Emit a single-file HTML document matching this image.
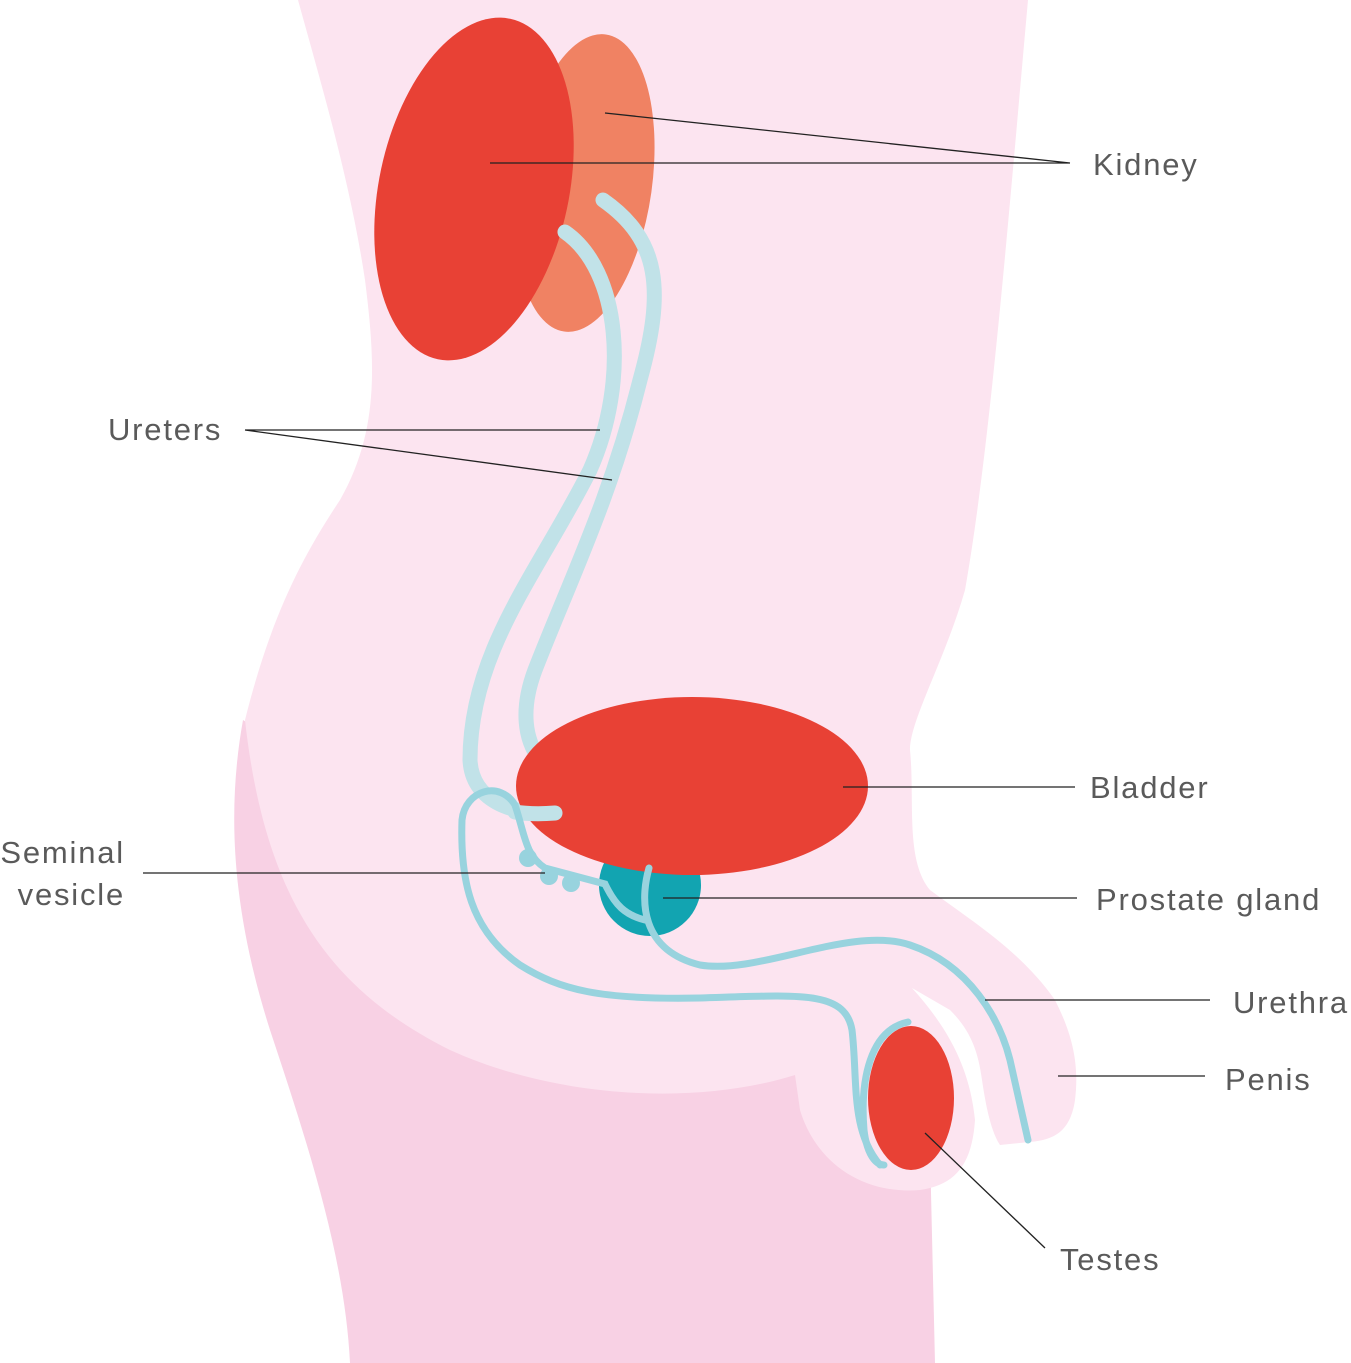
<!DOCTYPE html>
<html><head><meta charset="utf-8"><style>
html,body{margin:0;padding:0;background:#fff;}
svg{display:block}
text{font-family:"Liberation Sans",sans-serif;font-size:31px;letter-spacing:1.8px;fill:#5a5a5a;}
</style></head><body>
<svg width="1351" height="1363" viewBox="0 0 1351 1363">
<path d="M243,720 C225,820 235,920 270,1030 C310,1150 345,1260 350,1363 L935,1363 L930,1150 L800,1060 Z" fill="#f8d1e4"/>
<path d="M298,0 L1028,0 C1010,200 990,450 965,590 C945,660 910,720 910,750 C915,800 905,860 930,890 C970,920 1020,950 1055,1000 C1070,1030 1080,1060 1075,1100 C1070,1135 1050,1140 1030,1142 L1000,1145 C990,1130 985,1100 982,1080 C978,1050 970,1030 950,1010 L912,988 C950,1030 970,1070 975,1120 C972,1165 955,1185 920,1190 C860,1195 815,1160 800,1110 L795,1075 C700,1105 560,1100 450,1050 C330,990 265,900 245,720 C270,620 300,560 340,500 C380,430 375,360 365,280 C350,180 320,80 298,0 Z" fill="#fce4f0"/>
<ellipse cx="585" cy="183" rx="67" ry="150" transform="rotate(8 585 183)" fill="#f08263"/>
<ellipse cx="474" cy="189" rx="95" ry="174" transform="rotate(12 474 189)" fill="#e84135"/>
<path d="M565,232 C620,270 630,380 590,470 C540,570 470,650 470,760 C472,800 510,815 555,813" stroke="#c1e2e8" stroke-width="15" fill="none" stroke-linecap="round"/>
<path d="M603,200 C660,240 665,290 640,380 C610,500 570,580 535,670 C520,710 525,740 540,760" stroke="#c1e2e8" stroke-width="15" fill="none" stroke-linecap="round"/>
<circle cx="650" cy="885" r="51" fill="#12a4b1"/>
<ellipse cx="692" cy="786" rx="176" ry="89" fill="#e84135"/>
<path d="M555,813 C530,815 515,812 515,812" stroke="#c1e2e8" stroke-width="15" fill="none" stroke-linecap="round"/>
<g fill="#98d3de"><circle cx="528" cy="858" r="9"/><circle cx="549" cy="876" r="9"/><circle cx="571" cy="883" r="9"/></g>
<path d="M880,1165 C850,1130 858,1080 852,1030 C845,990 800,995 700,998 C600,1000 560,990 520,965 C470,930 460,880 462,820 C465,790 500,780 515,805 C525,835 525,855 545,868 L605,884 C615,905 625,915 645,920" stroke="#98d3de" stroke-width="7" fill="none" stroke-linecap="round"/>
<path d="M649,868 C640,900 640,950 700,965 C760,975 850,925 910,945 C970,965 1000,1020 1010,1060 L1028,1140" stroke="#98d3de" stroke-width="7" fill="none" stroke-linecap="round"/>
<ellipse cx="911" cy="1098" rx="43" ry="72" fill="#e84135"/>
<path d="M908,1022 C870,1030 860,1080 864,1130 C867,1155 876,1165 884,1165" stroke="#98d3de" stroke-width="7" fill="none" stroke-linecap="round"/>
<g stroke="#222" stroke-width="1.3" fill="none">
<path d="M1070,163 L490,163 M1070,163 L605,113"/>
<path d="M245,430 L600,430 M245,430 L612,480"/>
<path d="M843,787 L1075,787"/>
<path d="M143,873 L545,873"/>
<path d="M663,898 L1077,898"/>
<path d="M985,1000 L1210,1000"/>
<path d="M1058,1076 L1205,1076"/>
<path d="M925,1133 L1045,1248"/>
</g>
<text x="1093" y="175">Kidney</text>
<text x="108" y="440">Ureters</text>
<text x="1090" y="798">Bladder</text>
<text x="125" y="863" text-anchor="end">Seminal</text>
<text x="125" y="905" text-anchor="end">vesicle</text>
<text x="1096" y="910">Prostate gland</text>
<text x="1233" y="1013">Urethra</text>
<text x="1225" y="1090">Penis</text>
<text x="1060" y="1270">Testes</text>
</svg>
</body></html>
